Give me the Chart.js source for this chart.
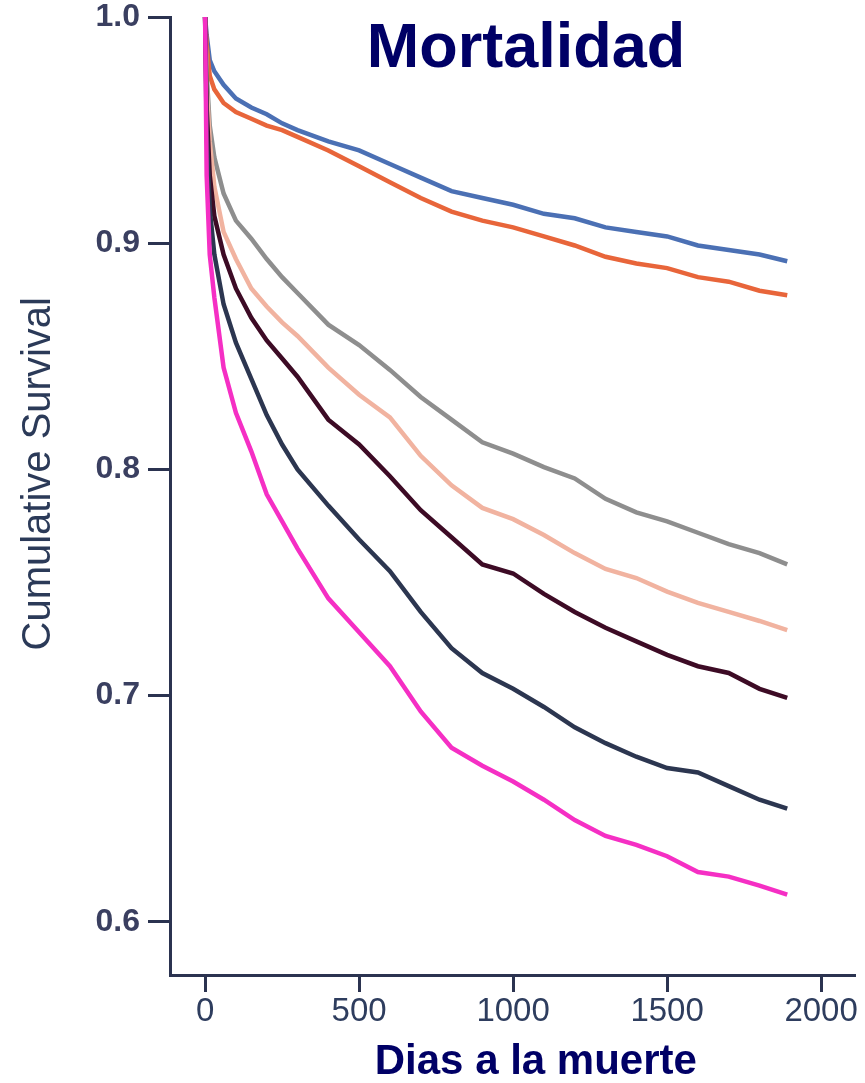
<!DOCTYPE html>
<html>
<head>
<meta charset="utf-8">
<script src="https://cdn.jsdelivr.net/npm/chart.js@4.4.1/dist/chart.umd.min.js"></script>
<style>
  html, body { margin: 0; padding: 0; background: #fff; }
  #wrap { position: relative; width: 865px; height: 1083px; }
  #title {
    position: absolute; left: 0; top: 14px; width: 1052px; text-align: center;
    font: bold 63px "Liberation Sans", Arial, sans-serif; line-height: 63px;
    color: #000066;
  }
</style>
</head>
<body>
<div id="wrap">
  <canvas id="chart"></canvas>
  <div id="title">Mortalidad</div>
</div>
<script>
// days since start (shared sampling of the curves)
const days = [0, 5, 15, 30, 60, 100, 150, 200, 250, 300, 400, 500, 600, 700, 800, 900,
  1000, 1100, 1200, 1300, 1400, 1500, 1600, 1700, 1800, 1890];

// cumulative survival per group
const blueSurv = [1.0, 0.992, 0.981, 0.976, 0.970, 0.964, 0.960, 0.957, 0.953, 0.950, 0.945, 0.941, 0.935,
  0.929, 0.923, 0.920, 0.917, 0.913, 0.911, 0.907, 0.905, 0.903, 0.899, 0.897, 0.895, 0.892];
const orangeSurv = [1.0, 0.988, 0.974, 0.968, 0.962, 0.958, 0.955, 0.952, 0.950, 0.947, 0.941, 0.934, 0.927,
  0.920, 0.914, 0.910, 0.907, 0.903, 0.899, 0.894, 0.891, 0.889, 0.885, 0.883, 0.879, 0.877];
const graySurv = [1.0, 0.975, 0.952, 0.938, 0.922, 0.910, 0.902, 0.893, 0.885, 0.878, 0.864, 0.855, 0.844,
  0.832, 0.822, 0.812, 0.807, 0.801, 0.796, 0.787, 0.781, 0.777, 0.772, 0.767, 0.763, 0.758];
const peachSurv = [1.0, 0.970, 0.945, 0.925, 0.905, 0.893, 0.880, 0.872, 0.865, 0.859, 0.845, 0.833, 0.823,
  0.806, 0.793, 0.783, 0.778, 0.771, 0.763, 0.756, 0.752, 0.746, 0.741, 0.737, 0.733, 0.729];
const maroonSurv = [1.0, 0.960, 0.930, 0.912, 0.895, 0.880, 0.867, 0.857, 0.849, 0.841, 0.822, 0.811, 0.797,
  0.782, 0.770, 0.758, 0.754, 0.745, 0.737, 0.730, 0.724, 0.718, 0.713, 0.710, 0.703, 0.699];
const navySurv = [1.0, 0.950, 0.915, 0.895, 0.873, 0.856, 0.840, 0.824, 0.811, 0.800, 0.784, 0.769, 0.755,
  0.737, 0.721, 0.710, 0.703, 0.695, 0.686, 0.679, 0.673, 0.668, 0.666, 0.660, 0.654, 0.650];
const magentaSurv = [1.0, 0.930, 0.895, 0.876, 0.845, 0.825, 0.808, 0.789, 0.777, 0.765, 0.743, 0.728, 0.713,
  0.693, 0.677, 0.669, 0.662, 0.654, 0.645, 0.638, 0.634, 0.629, 0.622, 0.620, 0.616, 0.612];

const xTicks = [0, 500, 1000, 1500, 2000];
const yTicks = [0.6, 0.7, 0.8, 0.9, 1.0];

const AXIS = '#2b3350';

function series(values, color) {
  return {
    data: days.map((d, i) => ({ x: d, y: values[i] })),
    borderColor: color,
    borderWidth: 4.5,
    pointRadius: 0,
    tension: 0,
    fill: false
  };
}

const canvas = document.getElementById('chart');
canvas.width = 865;
canvas.height = 1083;

new Chart(canvas, {
  type: 'line',
  data: {
    datasets: [
      series(magentaSurv, '#f52fc4'),
      series(navySurv, '#2c3650'),
      series(maroonSurv, '#3d0b25'),
      series(peachSurv, '#f1b3a0'),
      series(graySurv, '#8e8e8e'),
      series(orangeSurv, '#e8653a'),
      series(blueSurv, '#4b70b4')
    ]
  },
  options: {
    responsive: false,
    animation: false,
    layout: { padding: { top: 17, right: 10, left: 0, bottom: 0 } },
    plugins: { legend: { display: false }, tooltip: { enabled: false } },
    scales: {
      x: {
        type: 'linear',
        min: -114,
        max: 2110,
        afterBuildTicks: s => { s.ticks = xTicks.map(v => ({ value: v })); },
        afterFit: s => { s.height = 108; },
        border: { display: true, color: AXIS, width: 3 },
        grid: { display: true, drawOnChartArea: false, drawTicks: true, tickLength: 17, tickWidth: 3, tickColor: AXIS },
        ticks: {
          padding: 0,
          color: '#2e3d5e',
          callback: v => String(v),
          font: { family: '"Liberation Sans", Arial', size: 33 }
        },
        title: {
          display: true,
          // leading spaces nudge the centred label to the right, as in the figure
          text: '\u00a0\u00a0\u00a0\u00a0Dias a la muerte',
          color: '#000066',
          padding: 0,
          font: { family: '"Liberation Sans", Arial', size: 42, weight: 'bold', lineHeight: 1.0 }
        }
      },
      y: {
        type: 'linear',
        min: 0.5765,
        max: 1.0,
        afterBuildTicks: s => { s.ticks = yTicks.map(v => ({ value: v })); },
        afterFit: s => { s.width = 170; },
        border: { display: true, color: AXIS, width: 3 },
        grid: { display: true, drawOnChartArea: false, drawTicks: true, tickLength: 22, tickWidth: 3, tickColor: AXIS },
        ticks: {
          padding: 8,
          color: '#3a3f60',
          callback: v => v.toFixed(1),
          font: { family: '"Liberation Sans", Arial', size: 32, weight: 'bold', lineHeight: 0.5 }
        },
        title: {
          display: true,
          text: '\u00a0\u00a0\u00a0\u00a0Cumulative Survival',
          color: '#2b3a58',
          padding: { top: 15, bottom: 0 },
          font: { family: '"Liberation Sans", Arial', size: 40 }
        }
      }
    }
  }
});
</script>
</body>
</html>
